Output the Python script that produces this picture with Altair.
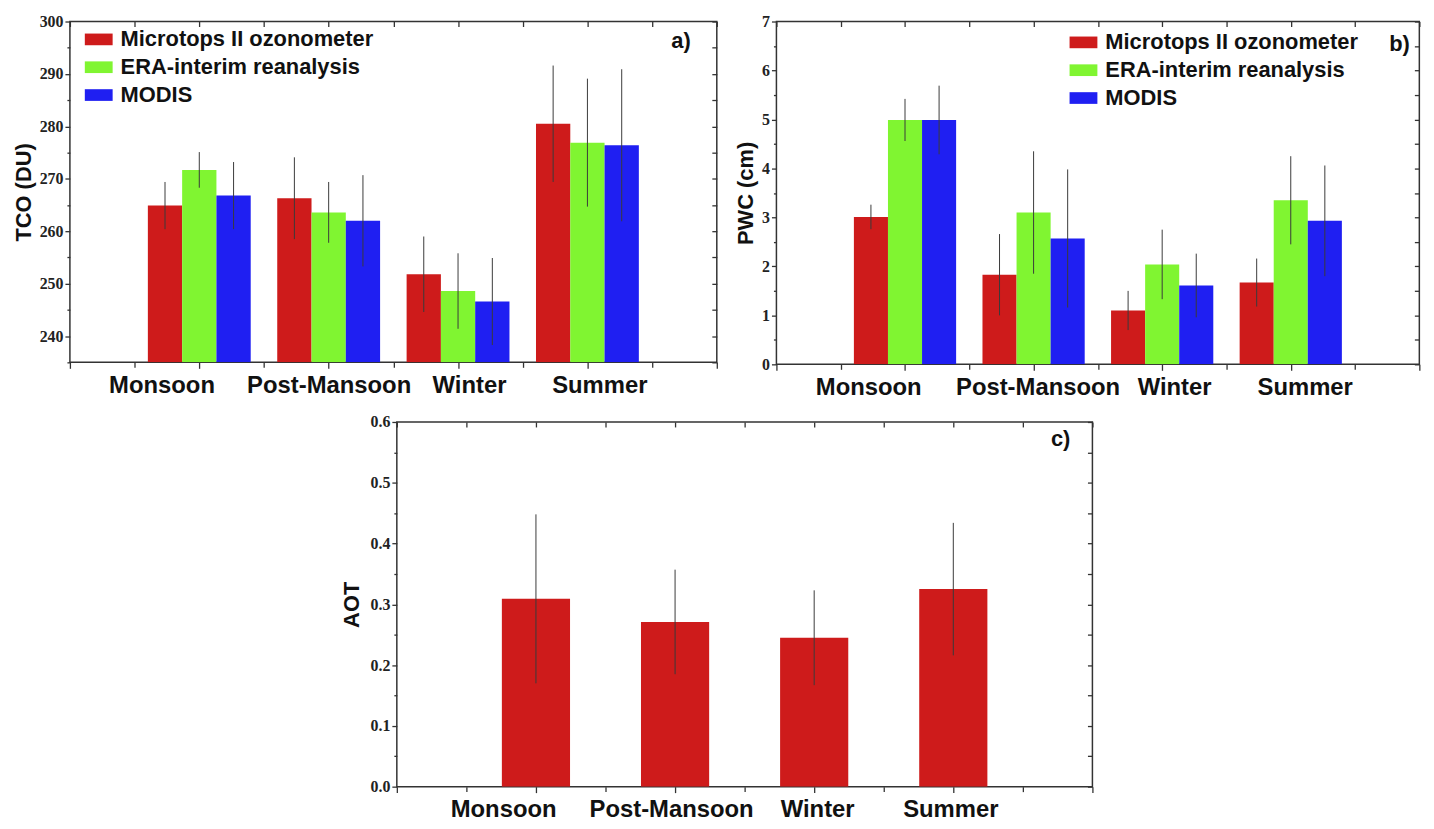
import altair as alt
import pandas as pd

# ---------------- data ----------------
categories = ["Monsoon", "Post-Mansoon", "Winter", "Summer"]
series_names = ["Microtops II ozonometer", "ERA-interim reanalysis", "MODIS"]

tco_microtops = [264.9, 266.3, 251.8, 280.5]
tco_era = [271.7, 263.6, 248.6, 276.9]
tco_modis = [266.8, 262.0, 246.6, 276.4]
tco_microtops_err = [4.5, 7.8, 7.2, 11.1]
tco_era_err = [3.4, 5.8, 7.2, 12.2]
tco_modis_err = [6.4, 8.7, 8.3, 14.5]

pwc_microtops = [3.01, 1.83, 1.10, 1.67]
pwc_era = [4.99, 3.10, 2.04, 3.35]
pwc_modis = [4.99, 2.57, 1.61, 2.93]
pwc_microtops_err = [0.25, 0.83, 0.40, 0.49]
pwc_era_err = [0.43, 1.25, 0.71, 0.90]
pwc_modis_err = [0.70, 1.41, 0.65, 1.13]

aot_microtops = [0.309, 0.271, 0.245, 0.325]
aot_microtops_err = [0.139, 0.086, 0.078, 0.109]

colors = ["#CE1B1B", "#80F531", "#1F1FF2"]


def panel_df(vals_list, errs_list, names):
    rows = []
    for s_i, (name, vals, errs) in enumerate(zip(names, vals_list, errs_list)):
        for c_i, (cat, v, e) in enumerate(zip(categories, vals, errs)):
            rows.append(dict(cat=cat, ci=c_i + 1, series=name, si=s_i,
                             ns=len(names), value=v, err=e))
    return pd.DataFrame(rows)


df_a = panel_df([tco_microtops, tco_era, tco_modis],
                [tco_microtops_err, tco_era_err, tco_modis_err], series_names)
df_b = panel_df([pwc_microtops, pwc_era, pwc_modis],
                [pwc_microtops_err, pwc_era_err, pwc_modis_err], series_names)
df_c = panel_df([aot_microtops], [aot_microtops_err], series_names[:1])

cat_array = "[" + ",".join("'" + c + "'" for c in categories) + "]"
x_vals = [i * 0.5 for i in range(11)]
x_label_expr = ("datum.value % 1 === 0 && datum.value >= 1 && datum.value <= "
                + str(len(categories)) + " ? " + cat_array + "[datum.value - 1] : ''")

SANS = "Liberation Sans"
SERIF = "Liberation Serif"
TICK = "#333333"


def make_panel(df, bw, ydom, ystep, major_every, yfmt, ytitle, width, height,
               tag, tag_dx, tag_y, label_offsets, legend_xy=None, title_pad=4):
    y_vals = []
    v = round(-(-ydom[0] // ystep) * ystep, 6)
    while v <= ydom[1] + 1e-9:
        y_vals.append(round(v, 6))
        v = round(v + ystep, 6)
    major_test = ("abs(datum.value / %s - round(datum.value / %s)) < 1e-6"
                  % (major_every, major_every))

    base = alt.Chart(df).transform_calculate(
        xpos="datum.ci + (datum.si - (datum.ns - 1) / 2) * %s" % bw
    ).transform_calculate(
        xl="datum.xpos - %s" % (bw / 2),
        xr="datum.xpos + %s" % (bw / 2),
        lo="datum.value - datum.err",
        hi="datum.value + datum.err",
    )
    xscale = alt.Scale(domain=[0, 5], nice=False, zero=False)
    yscale = alt.Scale(domain=ydom, nice=False, zero=False)

    off_conds = [{"test": "datum.value === %d" % (i + 1), "value": o}
                 for i, o in enumerate(label_offsets) if o != 0]

    x_bottom = alt.Axis(
        orient="bottom", values=x_vals, labelExpr=x_label_expr, title=None,
        domain=False, grid=False, tickColor=TICK, tickWidth=1.3,
        tickSize={"condition": {"test": "datum.value % 1 === 0", "value": 6}, "value": 5},
        labelOffset={"condition": off_conds, "value": 0},
        labelFont=SANS, labelFontWeight="bold", labelFontSize=24,
        labelColor="#111111", labelPadding=5, labelOverlap=False,
        labelFlush=False,
    )
    y_left = alt.Axis(
        orient="left", values=y_vals, title=ytitle, domain=False, grid=False,
        labelExpr="(%s) ? format(datum.value, '%s') : ''" % (major_test, yfmt),
        tickSize={"condition": {"test": major_test, "value": 5}, "value": 3},
        tickColor=TICK, tickWidth=1.3,
        labelFont=SERIF, labelFontWeight="bold", labelFontSize=16,
        labelColor="#222222", labelPadding=2,
        titleFont=SANS, titleFontWeight="bold", titleFontSize=22,
        titleColor="#111111", titlePadding=title_pad,
    )
    x_top = alt.Axis(orient="top", values=x_vals, labels=False, title=None,
                     domain=False, grid=False, tickSize=5, offset=-5,
                     tickColor=TICK, tickWidth=1.3)
    y_right = alt.Axis(orient="right", values=y_vals, labels=False, title=None,
                       domain=False, grid=False, tickSize=5, offset=-5,
                       tickColor=TICK, tickWidth=1.3)

    if legend_xy is not None:
        color = alt.Color(
            "series:N", sort=series_names,
            scale=alt.Scale(domain=series_names, range=colors),
            legend=alt.Legend(
                title=None, orient="none", legendX=legend_xy[0],
                legendY=legend_xy[1], symbolType="M-1,-0.42H1V0.42H-1Z",
                symbolSize=784, symbolStrokeWidth=0, symbolOpacity=1,
                labelFont=SANS, labelFontWeight="bold", labelFontSize=22,
                labelColor="#111111", labelLimit=600, rowPadding=3,
                labelOffset=8,
            ),
        )
    else:
        color = alt.value(colors[0])

    bars = base.mark_bar(clip=True, opacity=1).encode(
        x=alt.X("xl:Q", scale=xscale, axis=x_bottom),
        x2="xr:Q",
        y=alt.Y("value:Q", scale=yscale, axis=y_left),
        y2=alt.datum(ydom[0]),
        color=color,
    )
    rules = base.mark_rule(color="#3a3a3a", strokeWidth=1).encode(
        x=alt.X("xpos:Q", scale=xscale, axis=x_top),
        y=alt.Y("lo:Q", scale=yscale, axis=y_right),
        y2="hi:Q",
    )
    tag_chart = alt.Chart(pd.DataFrame({"t": [tag]})).mark_text(
        font=SANS, fontWeight="bold", fontSize=22, align="center",
        baseline="middle", color="#111111",
    ).encode(x=alt.value(width - tag_dx), y=alt.value(tag_y), text="t:N")

    return alt.layer(bars, rules, tag_chart).resolve_axis(
        x="independent", y="independent"
    ).properties(width=width, height=height)


panel_a = make_panel(df_a, 0.265, [235, 300], 5, 10, "d", "TCO (DU)", 651, 343,
                     "a)", 36, 20, [-38, 0, 11, 12], legend_xy=(15, 4))
panel_b = make_panel(df_b, 0.265, [0, 7], 0.5, 1, "d", "PWC (cm)", 647, 345,
                     "b)", 20, 23, [-37, 4, 12, 14], legend_xy=(295, 7))
panel_c = make_panel(df_c, 0.49, [0, 0.6], 0.05, 0.1, ".1f", "AOT", 700, 367,
                     "c)", 32, 17, [-33, -4, 3, -3], title_pad=7)

top = alt.hconcat(panel_a, panel_b, spacing=15).resolve_scale(
    color="independent").resolve_legend(color="independent")

chart = alt.vconcat(top, panel_c, spacing=13, center=True).configure_view(
    stroke="#333333", strokeWidth=1.5
).properties(background="white",
             padding={"top": 2, "left": 3, "right": 5, "bottom": 2})

chart.save("out.html", embed_options={"renderer": "svg", "actions": False})
